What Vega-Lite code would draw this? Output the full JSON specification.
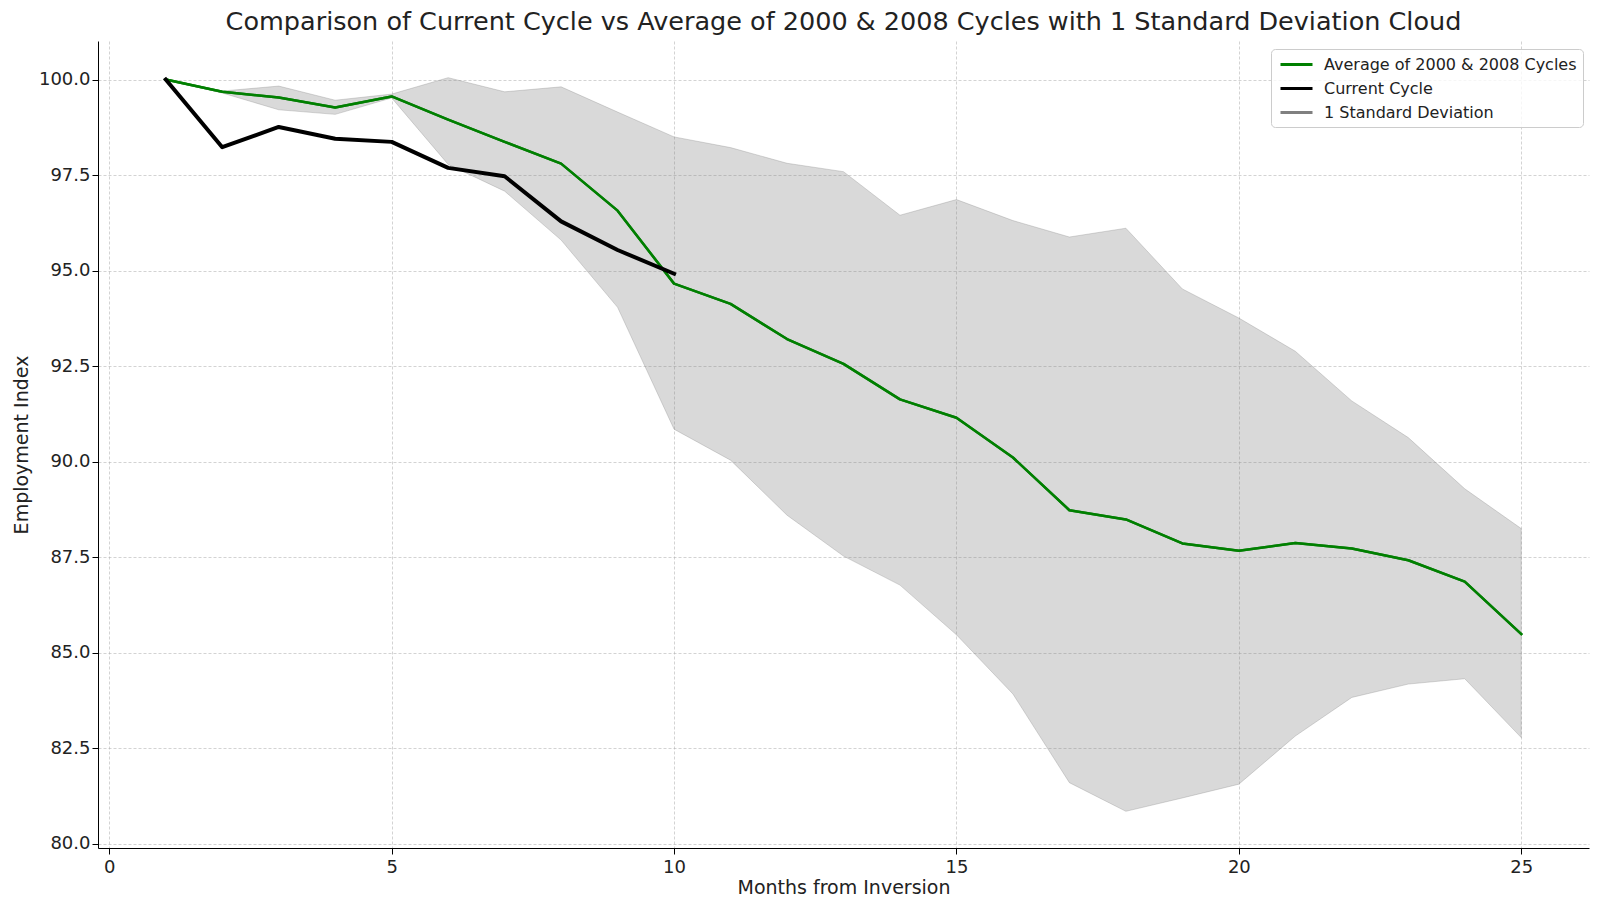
{
  "$schema": "https://vega.github.io/schema/vega-lite/v6.json",
  "width": 1491,
  "height": 807,
  "autosize": {"type": "none"},
  "padding": {"left": 98, "top": 41, "right": 11, "bottom": 61},
  "background": "white",
  "title": {
    "text": "Comparison of Current Cycle vs Average of 2000 & 2008 Cycles with 1 Standard Deviation Cloud",
    "fontSize": 25.5,
    "font": "DejaVu Sans",
    "fontWeight": "normal",
    "color": "#222222",
    "anchor": "middle",
    "offset": 6
  },
  "config": {
    "font": "DejaVu Sans",
    "view": {"stroke": null},
    "axis": {
      "domainColor": "black",
      "domainWidth": 1,
      "tickColor": "black",
      "tickSize": 6,
      "tickWidth": 1,
      "labelFont": "DejaVu Sans",
      "labelFontSize": 18,
      "labelColor": "#222222",
      "titleFont": "DejaVu Sans",
      "titleFontSize": 19,
      "titleFontWeight": "normal",
      "titleColor": "#222222",
      "labelPadding": 4,
      "gridColor": "#b0b0b0",
      "gridOpacity": 0.7,
      "gridDash": [3, 2],
      "gridWidth": 0.8
    },
    "axisX": {"titlePadding": 2},
    "axisY": {"titlePadding": 7, "labelPadding": 2}
  },
  "data": {
    "values": [
      {"month": 1, "avg": 100.0, "current": 100.0, "lower": 100.0, "upper": 100.0},
      {"month": 2, "avg": 99.68, "current": 98.23, "lower": 99.65, "upper": 99.70},
      {"month": 3, "avg": 99.53, "current": 98.76, "lower": 99.21, "upper": 99.83},
      {"month": 4, "avg": 99.27, "current": 98.45, "lower": 99.09, "upper": 99.46},
      {"month": 5, "avg": 99.56, "current": 98.37, "lower": 99.52, "upper": 99.62},
      {"month": 6, "avg": 98.95, "current": 97.69, "lower": 97.78, "upper": 100.05},
      {"month": 7, "avg": 98.37, "current": 97.47, "lower": 97.08, "upper": 99.68},
      {"month": 8, "avg": 97.80, "current": 96.29, "lower": 95.80, "upper": 99.81},
      {"month": 9, "avg": 96.57, "current": 95.54, "lower": 94.04, "upper": 99.15},
      {"month": 10, "avg": 94.66, "current": 94.92, "lower": 90.85, "upper": 98.50},
      {"month": 11, "avg": 94.13, "current": null, "lower": 90.04, "upper": 98.22},
      {"month": 12, "avg": 93.21, "current": null, "lower": 88.60, "upper": 97.81},
      {"month": 13, "avg": 92.56, "current": null, "lower": 87.53, "upper": 97.59},
      {"month": 14, "avg": 91.63, "current": null, "lower": 86.77, "upper": 96.45},
      {"month": 15, "avg": 91.15, "current": null, "lower": 85.47, "upper": 96.86},
      {"month": 16, "avg": 90.11, "current": null, "lower": 83.92, "upper": 96.31},
      {"month": 17, "avg": 88.73, "current": null, "lower": 81.60, "upper": 95.88},
      {"month": 18, "avg": 88.49, "current": null, "lower": 80.85, "upper": 96.11},
      {"month": 19, "avg": 87.86, "current": null, "lower": 81.20, "upper": 94.52},
      {"month": 20, "avg": 87.67, "current": null, "lower": 81.56, "upper": 93.76},
      {"month": 21, "avg": 87.87, "current": null, "lower": 82.82, "upper": 92.89},
      {"month": 22, "avg": 87.73, "current": null, "lower": 83.83, "upper": 91.59},
      {"month": 23, "avg": 87.42, "current": null, "lower": 84.18, "upper": 90.63},
      {"month": 24, "avg": 86.86, "current": null, "lower": 84.32, "upper": 89.29},
      {"month": 25, "avg": 85.49, "current": null, "lower": 82.78, "upper": 88.25}
    ]
  },
  "layer": [
    {
      "mark": {"type": "line", "strokeWidth": 2.5, "strokeJoin": "round", "strokeCap": "square"},
      "encoding": {
        "x": {
          "field": "month",
          "type": "quantitative",
          "title": "Months from Inversion",
          "scale": {"domain": [-0.2, 26.2], "nice": false, "zero": false},
          "axis": {"values": [0, 5, 10, 15, 20, 25], "format": "d", "grid": true}
        },
        "y": {
          "field": "avg",
          "type": "quantitative",
          "title": "Employment Index",
          "scale": {"domain": [79.89, 101.01], "nice": false, "zero": false},
          "axis": {"values": [80, 82.5, 85, 87.5, 90, 92.5, 95, 97.5, 100], "format": ".1f", "grid": true}
        },
        "color": {
          "datum": "Average of 2000 & 2008 Cycles",
          "type": "nominal",
          "scale": {
            "domain": ["Average of 2000 & 2008 Cycles", "Current Cycle", "1 Standard Deviation"],
            "range": ["green", "black", "gray"]
          },
          "legend": {
            "title": null,
            "orient": "none",
            "legendX": 1173,
            "legendY": 8,
            "fillColor": "rgba(255,255,255,0.8)",
            "strokeColor": "#cccccc",
            "cornerRadius": 4,
            "padding": 6,
            "labelFont": "DejaVu Sans",
            "labelFontSize": 16,
            "labelLimit": 0,
            "labelColor": "#222222",
            "labelOffset": 18,
            "rowPadding": 6,
            "symbolSize": 256,
            "symbolOffset": 10,
            "symbolType": "M-2,0H2",
            "symbolStrokeWidth": 3
          }
        }
      }
    },
    {
      "mark": {"type": "area", "fillOpacity": 0.3, "stroke": "gray", "strokeOpacity": 0.3, "strokeWidth": 1},
      "encoding": {
        "x": {"field": "month", "type": "quantitative", "title": "Months from Inversion"},
        "y": {"field": "lower", "type": "quantitative", "title": "Employment Index"},
        "y2": {"field": "upper"},
        "color": {"datum": "1 Standard Deviation", "type": "nominal"}
      }
    },
    {
      "mark": {"type": "line", "strokeWidth": 2.5, "strokeJoin": "round", "strokeCap": "square"},
      "encoding": {
        "x": {"field": "month", "type": "quantitative", "title": "Months from Inversion"},
        "y": {"field": "avg", "type": "quantitative", "title": "Employment Index"},
        "color": {"datum": "Average of 2000 & 2008 Cycles", "type": "nominal"}
      }
    },
    {
      "transform": [{"filter": "datum.current != null"}],
      "mark": {"type": "line", "strokeWidth": 4, "strokeJoin": "round", "strokeCap": "square"},
      "encoding": {
        "x": {"field": "month", "type": "quantitative", "title": "Months from Inversion"},
        "y": {"field": "current", "type": "quantitative", "title": "Employment Index"},
        "color": {"datum": "Current Cycle", "type": "nominal"}
      }
    }
  ]
}
